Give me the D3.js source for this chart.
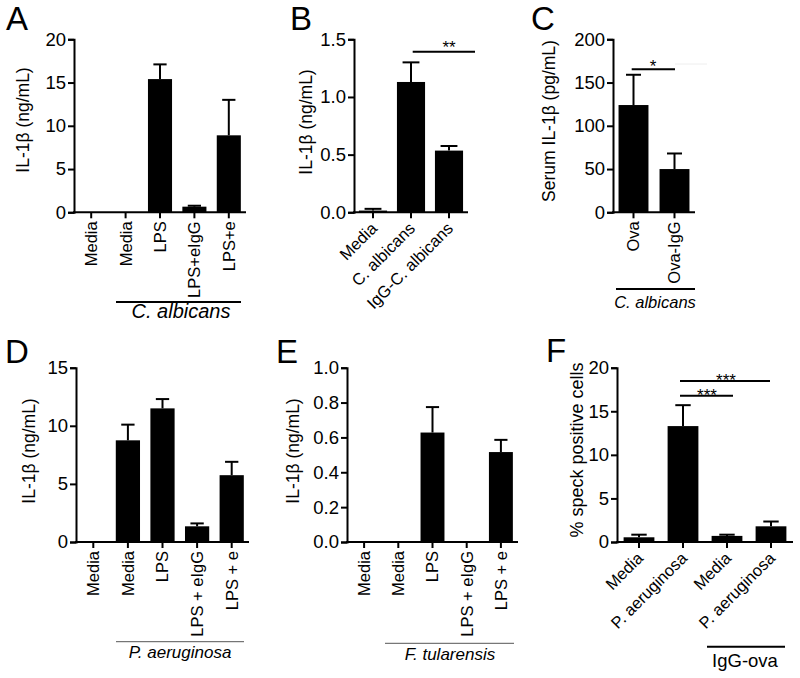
<!DOCTYPE html>
<html><head><meta charset="utf-8">
<script src="https://cdn.jsdelivr.net/npm/d3@7/dist/d3.min.js"></script>
<style>
body{margin:0;background:#fff;}
svg text{font-family:"Liberation Sans",Arial,Helvetica,sans-serif;fill:#000;}
</style></head>
<body><svg id="fig" width="800" height="678"></svg>
<script>
// ---- Data ----
const catsA = ["Media","Media","LPS","LPS+eIgG","LPS+e"];
const meanA = [0, 0, 15.4, 0.65, 8.9];
const semA  = [0, 0, 1.7, 0.11, 4.1];
const ticksA = [0,5,10,15,20];

const catsB = ["Media","C. albicans","IgG-C. albicans"];
const meanB = [0.015, 1.13, 0.535];
const semB  = [0.015, 0.17, 0.04];
const ticksB = [0,0.5,1.0,1.5];

const catsC = ["Ova","Ova-IgG"];
const meanC = [124, 50];
const semC  = [35, 18];
const ticksC = [0,50,100,150,200];

const catsD = ["Media","Media","LPS","LPS + eIgG","LPS + e"];
const meanD = [0, 8.75, 11.5, 1.35, 5.75];
const semD  = [0, 1.35, 0.8, 0.25, 1.15];
const ticksD = [0,5,10,15];

const catsE = ["Media","Media","LPS","LPS + eIgG","LPS + e"];
const meanE = [0, 0, 0.628, 0, 0.516];
const semE  = [0, 0, 0.146, 0, 0.07];
const ticksE = [0,0.2,0.4,0.6,0.8,1.0];

const catsF = ["Media","P. aeruginosa","Media","P. aeruginosa"];
const meanF = [0.54, 13.3, 0.7, 1.8];
const semF  = [0.3, 2.4, 0.14, 0.55];
const ticksF = [0,5,10,15,20];

const svg = d3.select("#fig");

function panel(cfg){
  const g = svg.append("g");
  const y = d3.scaleLinear().domain(cfg.domain).range([cfg.yb, cfg.yt]);
  const x = d3.scaleBand().domain(d3.range(cfg.cats.length)).range([cfg.x0, cfg.x1])
      .paddingInner(cfg.pad).paddingOuter(cfg.pad/2);
  // bars
  g.selectAll("rect.bar").data(cfg.mean).join("rect")
    .attr("x",(d,i)=>x(i)).attr("width",x.bandwidth())
    .attr("y",d=>y(d)).attr("height",d=>cfg.yb-y(d)).attr("fill","#000");
  // error bars
  const cw = x.bandwidth()*cfg.cap;
  cfg.mean.forEach((m,i)=>{
    const s = cfg.sem[i]; if(!s) return;
    const cx = x(i)+x.bandwidth()/2;
    g.append("line").attr("x1",cx).attr("x2",cx).attr("y1",y(m)).attr("y2",y(m+s))
      .attr("stroke","#000").attr("stroke-width",2);
    g.append("line").attr("x1",cx-cw/2).attr("x2",cx+cw/2).attr("y1",y(m+s)).attr("y2",y(m+s))
      .attr("stroke","#000").attr("stroke-width",2);
  });
  // y axis
  const ya = g.append("g").attr("transform",`translate(${cfg.x0},0)`)
    .call(d3.axisLeft(y).tickValues(cfg.ticks).tickFormat(d3.format(cfg.fmt)).tickSizeOuter(0).tickSize(6).tickPadding(2));
  ya.select(".domain").attr("stroke-width",2);
  ya.selectAll(".tick line").attr("stroke-width",2);
  ya.selectAll("text").attr("font-size",18.5);
  // x axis
  const xa = g.append("g").attr("transform",`translate(0,${cfg.yb})`)
    .call(d3.axisBottom(x).tickFormat(i=>cfg.cats[i]).tickSizeOuter(0).tickSize(6));
  xa.select(".domain").attr("d",`M${cfg.x0-1},0H${cfg.x1}`).attr("stroke-width",2);
  xa.selectAll(".tick line").attr("stroke-width",2);
  const xt = xa.selectAll("text").attr("font-size",16.5);
  if(cfg.rot===90){
    xt.attr("text-anchor","end").attr("transform","rotate(-90)")
      .attr("x",-9).attr("y",0).attr("dy","0.36em");
  } else {
    xt.attr("text-anchor","end").attr("transform",`translate(-3,9) rotate(-45)`)
      .attr("x",0).attr("y",0).attr("dy","0.7em");
  }
  // y label
  g.append("text").attr("transform",`translate(${cfg.lx},${cfg.ly}) rotate(-90)`)
    .attr("text-anchor","middle").attr("font-size",cfg.lfs||17.5).text(cfg.ylabel);
  // panel letter
  g.append("text").attr("x",cfg.px).attr("y",cfg.py).attr("font-size",33).text(cfg.letter);
  return {x,y,g};
}

function bracket(g,x1,x2,yy,w,col,label,tx,ty,fs,ital){
  g.append("line").attr("x1",x1).attr("x2",x2).attr("y1",yy).attr("y2",yy)
    .attr("stroke",col).attr("stroke-width",w);
  g.append("text").attr("x",tx).attr("y",ty).attr("text-anchor","middle")
    .attr("font-size",fs).attr("font-style",ital?"italic":"normal").text(label);
}
function sig(g,x1,x2,yy,label,tx,ty){
  g.append("line").attr("x1",x1).attr("x2",x2).attr("y1",yy).attr("y2",yy)
    .attr("stroke","#000").attr("stroke-width",2);
  g.append("text").attr("x",tx).attr("y",ty).attr("text-anchor","middle")
    .attr("font-size",17).text(label);
}

const A = panel({cats:catsA,mean:meanA,sem:semA,ticks:ticksA,domain:[0,20],fmt:"d",
  x0:74,x1:246,yt:39.3,yb:212.3,pad:0.3,cap:0.55,rot:90,
  ylabel:"IL-1β (ng/mL)",lx:29,ly:120,letter:"A",px:6,py:30});
bracket(A.g,116,241,302,2,"#000","C. albicans",181,318,20,true);

const B = panel({cats:catsB,mean:meanB,sem:semB,ticks:ticksB,domain:[0,1.5],fmt:".1f",
  x0:354,x1:468,yt:39.3,yb:212.3,pad:0.26,cap:0.6,rot:45,
  ylabel:"IL-1β (ng/mL)",lx:312,ly:122,letter:"B",px:290,py:30});
sig(B.g,412.7,475,51.7,"**",449,53);

const C = panel({cats:catsC,mean:meanC,sem:semC,ticks:ticksC,domain:[0,200],fmt:"d",
  x0:613,x1:695,yt:39.3,yb:212.3,pad:0.27,cap:0.5,rot:90,
  ylabel:"Serum IL-1β (pg/mL)",lx:555,ly:121,letter:"C",px:531,py:30});
sig(C.g,631.7,675,69.3,"*",653,72);
C.g.append("line").attr("x1",675).attr("x2",707).attr("y1",64).attr("y2",64)
  .attr("stroke","#eee").attr("stroke-width",1);
bracket(C.g,616,695,289,2,"#000","C. albicans",655,308,16.5,true);

const D = panel({cats:catsD,mean:meanD,sem:semD,ticks:ticksD,domain:[0,15],fmt:"d",
  x0:76,x1:249,yt:367.7,yb:542,pad:0.3,cap:0.55,rot:90,
  ylabel:"IL-1β (ng/mL)",lx:35,ly:451,letter:"D",px:5,py:363});
bracket(D.g,116,244,641.7,1,"#555","P. aeruginosa",180,658,17,true);

const E = panel({cats:catsE,mean:meanE,sem:semE,ticks:ticksE,domain:[0,1],fmt:".1f",
  x0:347,x1:518,yt:367.7,yb:542,pad:0.3,cap:0.55,rot:90,
  ylabel:"IL-1β (ng/mL)",lx:299,ly:451,letter:"E",px:276,py:363});
bracket(E.g,385,514,643.3,1,"#555","F. tularensis",450,660,17,true);

const F = panel({cats:catsF,mean:meanF,sem:semF,ticks:ticksF,domain:[0,20],fmt:"d",
  x0:617,x1:793,yt:367.7,yb:542,pad:0.3,cap:0.5,rot:45,lfs:18,
  ylabel:"% speck positive cells",lx:583,ly:450,letter:"F",px:546,py:362});
sig(F.g,680,733,395.7,"***",707,401);
sig(F.g,680,770,381,"***",726,386);
bracket(F.g,707,785,646.7,2,"#000","IgG-ova",745,667,18.5,false);
</script></body></html>
